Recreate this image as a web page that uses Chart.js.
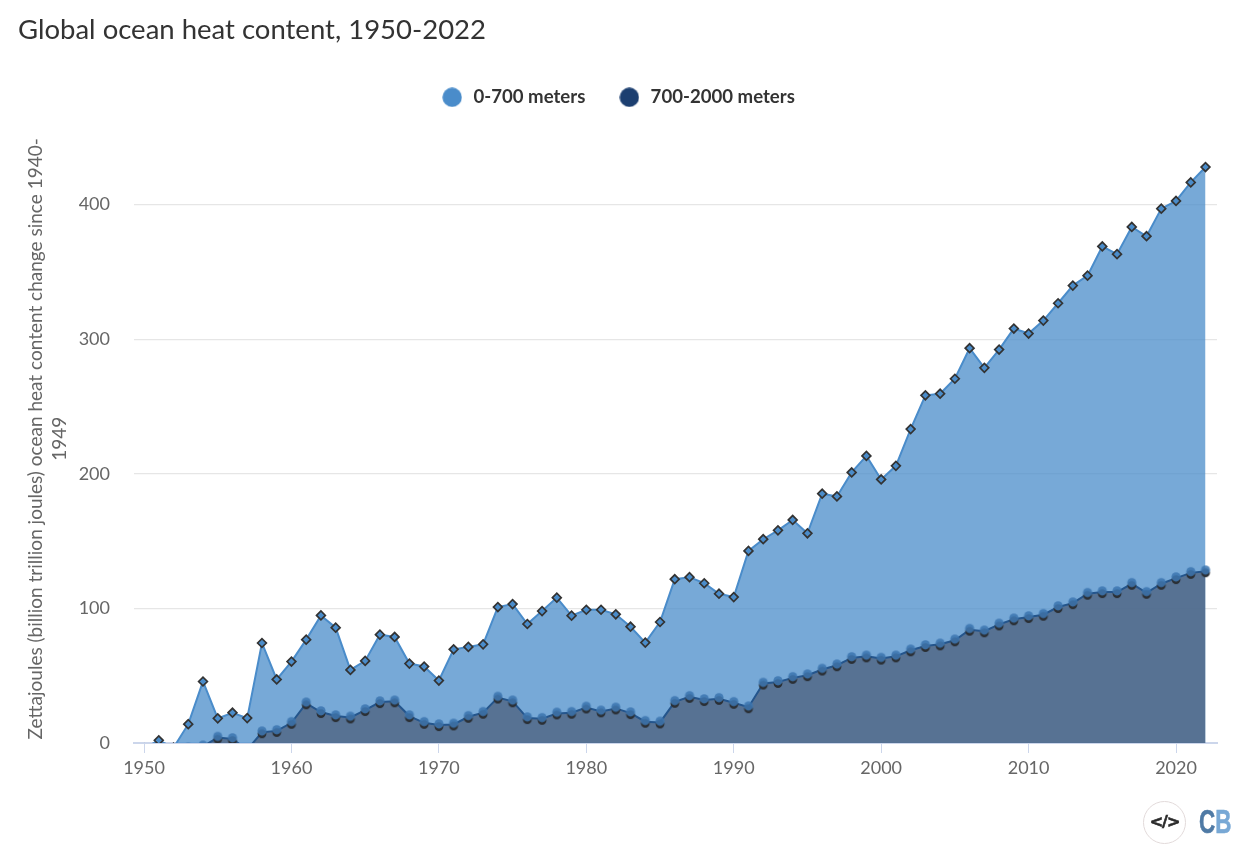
<!DOCTYPE html>
<html><head><meta charset="utf-8">
<style>
html,body{margin:0;padding:0;background:#fff}
#wrap{position:relative;width:1248px;height:856px;overflow:hidden}
canvas{display:block}
#code{position:absolute;left:1143px;top:801px;width:41px;height:41px;border:1px solid #e2dada;border-radius:50%;text-align:center;font:700 16px/40px "DejaVu Sans",sans-serif;color:#2b2b2b;letter-spacing:-1px;-webkit-text-stroke:.6px #2b2b2b}
#cb{position:absolute;left:1199px;top:803px;font:700 33px/38px "Liberation Sans",sans-serif;color:#4f7aa5;transform:scaleX(.68);transform-origin:left top;-webkit-text-stroke:.6px}
#cb span{color:#78a8d5}
</style>
<script src="https://cdn.jsdelivr.net/npm/chart.js@4/dist/chart.umd.min.js"></script>
</head><body>
<div id="wrap"><canvas id="c" width="1248" height="856"></canvas>
<div id="code">&lt;/&gt;</div><div id="cb">C<span>B</span></div></div>
<script>
const years = [1950,1951,1952,1953,1954,1955,1956,1957,1958,1959,1960,1961,1962,1963,1964,1965,1966,1967,1968,1969,1970,1971,1972,1973,1974,1975,1976,1977,1978,1979,1980,1981,1982,1983,1984,1985,1986,1987,1988,1989,1990,1991,1992,1993,1994,1995,1996,1997,1998,1999,2000,2001,2002,2003,2004,2005,2006,2007,2008,2009,2010,2011,2012,2013,2014,2015,2016,2017,2018,2019,2020,2021,2022];
const upper = [-4,2,-3.5,14,45.7,18.3,22.5,18.5,74.3,47.2,60.5,76.8,94.8,85.7,54.3,61,80.5,78.8,59,56.8,46.4,69.6,71.4,73.3,101,103.2,88.4,98,108,94.6,99,99,95.6,86.4,74.6,89.9,121.7,123.2,118.7,110.9,108.4,142.7,151.4,158,165.7,155.8,185.2,183.2,201,213.3,195.8,205.9,233.2,258.3,259.5,270.6,293.3,278.7,292.3,307.9,304.2,313.8,326.7,339.8,347.2,368.9,363.2,383.4,376.5,397,402.7,416.5,427.9];
const deep = [-6,-5,-5,-4,-2.5,4,3,-5,8,9,15,29.5,23,20,19,24.5,30.4,31,20,15,13.3,13.8,19.5,22.5,33.8,31,18.5,18,22,22.5,26.4,23.5,25.7,22.2,15.8,15.3,30.6,34.3,31.9,32.8,29.9,26.6,44.2,45.4,48.4,50.4,54.6,57.8,63.2,64.4,62.7,64.4,68.9,72.1,73.3,76.3,84.2,83,88.1,91.9,93.6,95.3,101,103.9,110.9,112.1,112.1,118.3,111.6,118.3,122.5,126.4,127.6];
const seriesNames = ["0-700 meters","700-2000 meters"];
const xTicks = [1950,1960,1970,1980,1990,2000,2010,2020];
const yTicks = [0,100,200,300,400];
const titleText = "Global ocean heat content, 1950-2022";
const yTitle = ["Zettajoules (billion trillion joules) ocean heat content change since 1940-","1949"];
const legendColors = ["#4a8cca","#1c3f70"];

const font = "Lato";
// marker of the deep series: a dark disc with a translucent blue disc just above it
const mk = document.createElement('canvas'); mk.width=14; mk.height=16;
const g = mk.getContext('2d');
g.fillStyle='#2b2f34'; g.beginPath(); g.arc(7,9.6,4.4,0,7); g.fill();
g.fillStyle='rgba(62,118,176,0.88)'; g.beginPath(); g.arc(7,6.8,4.6,0,7); g.fill();
// legend discs
const disc = c => { const d=document.createElement('canvas'); d.width=20; d.height=20; const x=d.getContext('2d'); x.fillStyle=c; x.beginPath(); x.arc(10,10,9.7,0,7); x.fill(); return d; };
const legendDiscs = legendColors.map(disc);

const legendGap = {id:'legendGap',beforeInit(ch){const f=ch.legend.fit; ch.legend.fit=function(){f.call(this); this.height+=18;};}};

new Chart(document.getElementById('c'),{
  type:'line',
  plugins:[legendGap],
  data:{labels:years,datasets:[
    {label:seriesNames[0],data:upper,order:2,fill:'origin',borderColor:'#4a8cca',borderWidth:2,
     backgroundColor:'rgba(74,140,202,0.75)',pointStyle:'rectRot',pointRadius:4.4,pointBorderColor:'#333',pointBorderWidth:1.7,pointBackgroundColor:'#4a8cca',tension:0,clip:{left:10,right:10,top:10,bottom:0}},
    {label:seriesNames[1],data:deep,order:1,fill:'origin',borderColor:'#24558c',borderWidth:2,
     backgroundColor:'rgba(77,96,124,0.75)',pointStyle:mk,pointRadius:5,tension:0,clip:{left:10,right:10,top:10,bottom:0}}
  ]},
  options:{
    responsive:false,animation:false,
    layout:{padding:{left:18,right:31,top:0,bottom:0}},
    plugins:{
      tooltip:{enabled:false},
      title:{display:true,text:titleText,align:'start',color:'#333',font:{family:font,size:27.5,weight:'400'},padding:{top:14,bottom:9}},
      legend:{position:'top',align:'center',labels:{
        usePointStyle:true,pointStyleWidth:24,boxHeight:14,padding:32,color:'#333',font:{family:font,size:18.6,weight:'700'},
        sort:(a,b)=>a.datasetIndex-b.datasetIndex,
        generateLabels(ch){return Chart.defaults.plugins.legend.labels.generateLabels(ch).map(it=>({...it,pointStyle:legendDiscs[it.datasetIndex],fillStyle:legendColors[it.datasetIndex],strokeStyle:legendColors[it.datasetIndex],lineWidth:0}));}
      }}
    },
    scales:{
      x:{type:'linear',min:1949.32,max:2022.78,
        afterBuildTicks(s){s.ticks=xTicks.map(v=>({value:v}));},
        afterFit(s){s.height=113;},
        grid:{drawOnChartArea:false,drawTicks:true,tickLength:10,tickColor:'#ccd6eb',tickWidth:1},
        border:{color:'#ccd6eb',width:2},
        ticks:{color:'#666',maxRotation:0,autoSkip:false,padding:4,font:{family:font,size:18},callback:v=>String(v)}},
      y:{type:'linear',min:0,max:452,
        afterBuildTicks(s){s.ticks=yTicks.map(v=>({value:v}));},
        afterFit(s){s.width=116;},
        grid:{color:'#e6e6e6',lineWidth:1.3,drawTicks:false},
        border:{display:false},
        ticks:{color:'#666',padding:24,autoSkip:false,font:{family:font,size:18}},
        title:{display:true,text:yTitle,color:'#666',font:{family:font,size:19,lineHeight:1.27},padding:{top:6,bottom:0}}}
    }
  }
});
</script></body></html>
